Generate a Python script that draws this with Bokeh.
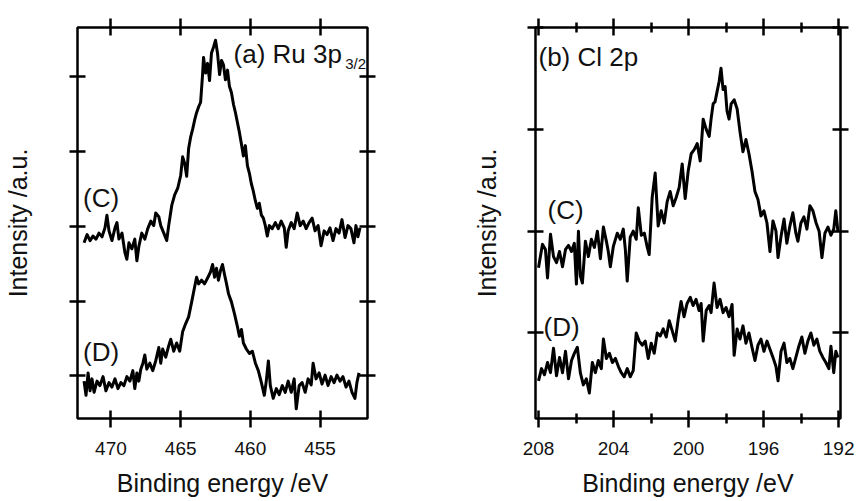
from bokeh.plotting import figure
from bokeh.models import Range1d, LinearAxis, FixedTicker, Label
from bokeh.layouts import row
from bokeh.embed import file_html
from bokeh.resources import INLINE

FONT = "Liberation Sans"

# ---------------- (a) Ru 3p3/2 ----------------
ru_energy_C = [471.93, 471.71, 471.5, 471.29, 471.07, 470.86, 470.64, 470.43, 470.29, 470.14,
               469.93, 469.71, 469.57, 469.43, 469.21, 469.0, 468.86, 468.71, 468.5, 468.29,
               468.14, 468.0, 467.79, 467.57, 467.36, 467.14, 466.93, 466.79, 466.57, 466.43,
               466.21, 466.0, 465.86, 465.64, 465.43, 465.21, 465.0, 464.86, 464.71, 464.57,
               464.43, 464.29, 464.14, 464.0, 463.86, 463.71, 463.57, 463.43, 463.36, 463.21,
               463.07, 462.93, 462.79, 462.64, 462.5, 462.36, 462.21, 462.07, 461.93, 461.79,
               461.64, 461.5, 461.36, 461.21, 461.07, 460.93, 460.79, 460.64, 460.5, 460.36,
               460.21, 460.07, 459.93, 459.79, 459.64, 459.5, 459.36, 459.21, 459.07, 458.93,
               458.79, 458.64, 458.43, 458.21, 458.0, 457.79, 457.57, 457.43, 457.29, 457.07,
               456.86, 456.64, 456.43, 456.21, 456.0, 455.79, 455.57, 455.36, 455.14, 454.93,
               454.71, 454.5, 454.29, 454.07, 453.86, 453.64, 453.43, 453.21, 453.0, 452.79,
               452.57, 452.43, 452.29, 452.14]
ru_int_C = [1.78, 1.89, 1.81, 1.87, 1.83, 1.91, 1.86, 1.98, 2.15, 1.94,
            1.81, 1.98, 2.05, 1.83, 1.91, 1.65, 1.56, 1.78, 1.70, 1.83,
            1.54, 1.73, 1.91, 1.83, 1.97, 2.07, 2.01, 2.18, 2.13, 2.01,
            1.91, 1.81, 2.01, 2.28, 2.42, 2.51, 2.68, 2.93, 2.84, 2.67,
            3.04, 3.19, 3.30, 3.42, 3.52, 3.60, 3.66, 4.03, 4.26, 4.05,
            4.18, 3.95, 4.32, 4.40, 4.49, 4.32, 4.03, 4.22, 4.16, 3.96,
            4.09, 3.87, 3.79, 3.63, 3.52, 3.39, 3.26, 3.10, 2.94, 3.08,
            2.81, 2.71, 2.57, 2.47, 2.34, 2.24, 2.31, 2.15, 2.11, 2.01,
            1.87, 2.01, 1.97, 2.05, 1.97, 2.07, 1.98, 1.72, 1.94, 2.05,
            1.97, 2.18, 2.01, 2.07, 1.97, 2.05, 2.11, 1.94, 2.01, 1.74,
            1.94, 1.89, 1.98, 1.81, 1.97, 1.91, 2.09, 1.85, 2.01, 1.97,
            1.78, 2.01, 1.86, 1.98]

ru_energy_D = [471.93, 471.79, 471.64, 471.5, 471.36, 471.21, 471.0, 470.79, 470.57, 470.36,
               470.14, 469.93, 469.71, 469.5, 469.29, 469.07, 468.86, 468.64, 468.43, 468.29,
               468.14, 468.0, 467.86, 467.71, 467.57, 467.43, 467.21, 467.0, 466.79, 466.57,
               466.43, 466.29, 466.07, 465.86, 465.71, 465.5, 465.29, 465.07, 464.86, 464.64,
               464.43, 464.21, 464.0, 463.86, 463.71, 463.5, 463.29, 463.07, 462.86, 462.71,
               462.57, 462.43, 462.29, 462.14, 462.0, 461.86, 461.71, 461.57, 461.36, 461.14,
               460.93, 460.79, 460.64, 460.5, 460.29, 460.07, 459.86, 459.64, 459.43, 459.21,
               459.0, 458.86, 458.71, 458.57, 458.36, 458.14, 457.93, 457.71, 457.5, 457.29,
               457.07, 456.86, 456.71, 456.5, 456.29, 456.07, 455.86, 455.64, 455.5, 455.29,
               455.07, 454.86, 454.64, 454.43, 454.21, 454.0, 453.79, 453.57, 453.36, 453.14,
               452.93, 452.71, 452.5, 452.36, 452.21]
ru_int_D = [-0.07, -0.26, 0.04, -0.20, -0.04, -0.22, -0.07, -0.13, -0.01, -0.20,
            -0.09, -0.15, -0.04, -0.17, -0.09, -0.13, -0.01, -0.07, 0.07, -0.17,
            0.04, -0.07, 0.09, 0.17, 0.28, 0.09, 0.17, 0.07, 0.20, 0.38,
            0.17, 0.36, 0.25, 0.40, 0.49, 0.33, 0.44, 0.33, 0.59, 0.70,
            0.79, 0.99, 1.19, 1.32, 1.23, 1.28, 1.23, 1.31, 1.39, 1.49,
            1.32, 1.44, 1.28, 1.41, 1.49, 1.36, 1.23, 1.10, 0.99, 0.83,
            0.66, 0.53, 0.62, 0.44, 0.36, 0.30, 0.33, 0.17, 0.07, -0.09,
            -0.26, -0.07, 0.20, -0.13, -0.30, -0.17, -0.25, -0.13, -0.22, -0.07,
            -0.22, -0.04, -0.44, -0.13, -0.09, -0.22, -0.04, -0.12, 0.17, -0.04,
            0.04, -0.11, 0.01, -0.13, -0.01, -0.09, 0.01, -0.07, -0.01, -0.15,
            -0.07, -0.22, -0.30, -0.09, 0.04]

# ---------------- (b) Cl 2p ----------------
cl_energy_C = [208.0, 207.79, 207.63, 207.52, 207.36, 207.2, 207.04, 206.88, 206.72, 206.56,
               206.4, 206.24, 206.09, 205.98, 205.87, 205.77, 205.66, 205.5, 205.34, 205.18,
               205.02, 204.86, 204.7, 204.54, 204.38, 204.28, 204.17, 204.01, 203.8, 203.64,
               203.48, 203.37, 203.27, 203.11, 202.95, 202.79, 202.68, 202.52, 202.36, 202.2,
               202.1, 201.94, 201.78, 201.62, 201.46, 201.3, 201.14, 200.98, 200.82, 200.66,
               200.5, 200.34, 200.18, 200.02, 199.86, 199.7, 199.54, 199.38, 199.22, 199.06,
               198.9, 198.8, 198.69, 198.59, 198.48, 198.37, 198.27, 198.16, 198.05, 197.95,
               197.84, 197.73, 197.57, 197.41, 197.26, 197.1, 196.94, 196.78, 196.62, 196.46,
               196.3, 196.14, 195.98, 195.82, 195.66, 195.5, 195.34, 195.23, 195.07, 194.91,
               194.76, 194.6, 194.44, 194.28, 194.17, 194.01, 193.85, 193.69, 193.53, 193.37,
               193.2, 193.04, 192.89, 192.73, 192.57, 192.41, 192.26, 192.15, 192.04]
cl_int_C = [0.64, 0.87, 0.82, 0.54, 0.97, 0.75, 0.69, 0.80, 0.65, 0.82,
            0.86, 0.80, 0.88, 0.48, 1.00, 0.56, 0.49, 0.90, 0.75, 0.92,
            0.84, 1.00, 0.73, 1.04, 0.90, 0.80, 0.65, 0.85, 0.98, 0.92,
            1.02, 0.82, 0.51, 0.94, 1.00, 0.92, 1.23, 0.96, 0.98, 0.84,
            0.77, 1.33, 1.57, 1.05, 1.20, 1.08, 1.29, 1.39, 1.25, 1.33,
            1.43, 1.66, 1.32, 1.59, 1.76, 1.80, 1.86, 1.69, 2.10, 2.00,
            1.93, 2.10, 2.25, 2.27, 2.37, 2.47, 2.60, 2.39, 2.42, 2.18,
            2.10, 2.25, 2.29, 2.20, 1.98, 1.78, 1.90, 1.76, 1.59, 1.39,
            1.31, 1.15, 1.20, 1.08, 0.80, 1.10, 1.00, 0.74, 0.95, 1.12,
            0.88, 1.05, 1.18, 0.98, 0.90, 1.08, 1.14, 1.02, 1.25, 1.20,
            1.08, 1.00, 0.74, 0.98, 1.04, 0.96, 1.02, 1.20, 1.00]

cl_energy_D = [208.0, 207.84, 207.68, 207.52, 207.36, 207.2, 207.04, 206.88, 206.72, 206.56,
               206.4, 206.24, 206.09, 205.93, 205.77, 205.61, 205.45, 205.29, 205.13, 204.97,
               204.81, 204.65, 204.54, 204.38, 204.22, 204.06, 203.9, 203.74, 203.59, 203.43,
               203.27, 203.11, 202.95, 202.79, 202.63, 202.47, 202.31, 202.15, 201.99, 201.83,
               201.67, 201.51, 201.35, 201.19, 201.03, 200.87, 200.71, 200.55, 200.4, 200.24,
               200.08, 199.91, 199.76, 199.6, 199.44, 199.33, 199.22, 199.06, 198.9, 198.8,
               198.64, 198.48, 198.32, 198.16, 198.0, 197.84, 197.68, 197.57, 197.41, 197.26,
               197.1, 196.94, 196.78, 196.62, 196.46, 196.3, 196.14, 195.98, 195.82, 195.66,
               195.5, 195.34, 195.23, 195.07, 194.91, 194.76, 194.6, 194.44, 194.28, 194.12,
               193.96, 193.8, 193.64, 193.48, 193.32, 193.16, 193.0, 192.84, 192.68, 192.52,
               192.41, 192.26, 192.15, 192.04]
cl_int_D = [-0.47, -0.35, -0.41, -0.29, -0.39, -0.15, -0.42, -0.24, -0.39, -0.18,
            -0.45, -0.27, -0.20, -0.14, -0.39, -0.51, -0.45, -0.59, -0.29, -0.39,
            -0.27, -0.35, -0.06, -0.25, -0.20, -0.29, -0.25, -0.33, -0.39, -0.43,
            -0.35, -0.43, -0.37, 0.00, -0.08, -0.12, -0.08, -0.25, -0.10, -0.20,
            0.00, -0.03, 0.04, -0.04, 0.12, 0.02, -0.08, 0.14, 0.31, 0.16,
            0.29, 0.35, 0.27, 0.33, 0.22, 0.29, -0.08, 0.22, 0.27, 0.20,
            0.49, 0.25, 0.33, 0.20, 0.25, 0.16, 0.28, -0.22, 0.04, -0.06,
            0.07, -0.10, 0.00, -0.14, -0.27, -0.12, -0.06, -0.18, -0.08, -0.16,
            -0.24, -0.33, -0.47, -0.18, -0.10, -0.29, -0.25, -0.35, -0.24, -0.13,
            -0.04, -0.20, -0.08, 0.00, -0.12, -0.06, -0.18, -0.24, -0.29, -0.35,
            -0.13, -0.39, -0.18, -0.24]

ru_xticks = [470, 465, 460, 455]
ru_yticks = [0, 1, 2, 3, 4]
cl_xticks = [208, 204, 200, 196, 192]
cl_xminor = [206, 202, 198, 194]
cl_yticks = [0, 1, 2, 3]

X_LABEL = "Binding energy /eV"
Y_LABEL = "Intensity /a.u."


def style_axis(ax, tick_in, tick_out, minor_in=0, minor_out=0):
    ax.axis_line_color = None
    ax.major_tick_line_color = "black"
    ax.major_tick_line_width = 2.5
    ax.major_tick_in = tick_in
    ax.major_tick_out = tick_out
    ax.minor_tick_line_color = "black" if (minor_in or minor_out) else None
    ax.minor_tick_line_width = 2.5
    ax.minor_tick_in = minor_in
    ax.minor_tick_out = minor_out
    ax.major_label_text_font = FONT
    ax.axis_label_text_font = FONT
    ax.axis_label_text_font_style = "normal"
    ax.axis_label_text_color = "#111111"
    ax.major_label_text_color = "#111111"


def make_panel(width, xr, yr, xticks, xminor, yticks, borders, ylab_standoff):
    bl, br, bt, bb = borders
    p = figure(width=width, height=500, x_range=Range1d(*xr), y_range=Range1d(*yr),
               output_backend="svg", toolbar_location=None,
               x_axis_location=None, y_axis_location=None,
               min_border_left=bl, min_border_right=br,
               min_border_top=bt, min_border_bottom=bb)
    p.xgrid.visible = False
    p.ygrid.visible = False
    p.outline_line_color = "black"
    p.outline_line_width = 2.5
    p.outline_line_alpha = 1.0
    p.background_fill_color = "white"
    p.border_fill_color = "white"

    mi = 5 if xminor else 0
    for side in ("below", "above"):
        ax = LinearAxis(ticker=FixedTicker(ticks=xticks, minor_ticks=xminor))
        style_axis(ax, 8, 9, mi, mi)
        if side == "below":
            ax.major_label_text_font_size = "19px"
            ax.major_label_standoff = 14
            ax.axis_label = X_LABEL
            ax.axis_label_text_font_size = "25px"
            ax.axis_label_standoff = 11
        else:
            ax.major_label_text_font_size = "0px"
            ax.major_label_standoff = 0
        p.add_layout(ax, side)
    for side in ("left", "right"):
        ax = LinearAxis(ticker=FixedTicker(ticks=yticks, minor_ticks=[]))
        style_axis(ax, 8, 8)
        ax.major_label_text_font_size = "0px"
        ax.major_label_standoff = 0
        if side == "left":
            ax.axis_label = Y_LABEL
            ax.axis_label_text_font_size = "25px"
            ax.axis_label_standoff = ylab_standoff
        p.add_layout(ax, side)
    return p


def add_text(p, x, y, text, size):
    p.add_layout(Label(x=x, y=y, text=text, text_font=FONT, text_font_size=size,
                       text_baseline="alphabetic", text_align="left", text_color="#111111"))


p1 = make_panel(430, (472.4, 451.6), (-0.57, 4.66), ru_xticks, [], ru_yticks,
                (77, 63, 22, 82), 38)
p1.line(ru_energy_C, ru_int_C, line_color="black", line_width=3, line_join="round")
p1.line(ru_energy_D, ru_int_D, line_color="black", line_width=3, line_join="round")
add_text(p1, 461.21, 4.30, "(a) Ru 3p", "26px")
add_text(p1, 453.2, 4.18, "3/2", "15px")
add_text(p1, 472.0, 2.38, "(C)", "26px")
add_text(p1, 472.0, 0.32, "(D)", "26px")

p2 = make_panel(425, (208.16, 191.9), (-0.84, 3.0), cl_xticks, cl_xminor, cl_yticks,
                (105, 15, 27, 82), 27)
p2.line(cl_energy_C, cl_int_C, line_color="black", line_width=3, line_join="round")
p2.line(cl_energy_D, cl_int_D, line_color="black", line_width=3, line_join="round")
add_text(p2, 208.0, 2.71, "(b) Cl 2p", "26px")
add_text(p2, 207.52, 1.21, "(C)", "26px")
add_text(p2, 207.73, 0.06, "(D)", "26px")

layout = row(p1, p2)
open("out.html", "w").write(file_html(layout, INLINE))
